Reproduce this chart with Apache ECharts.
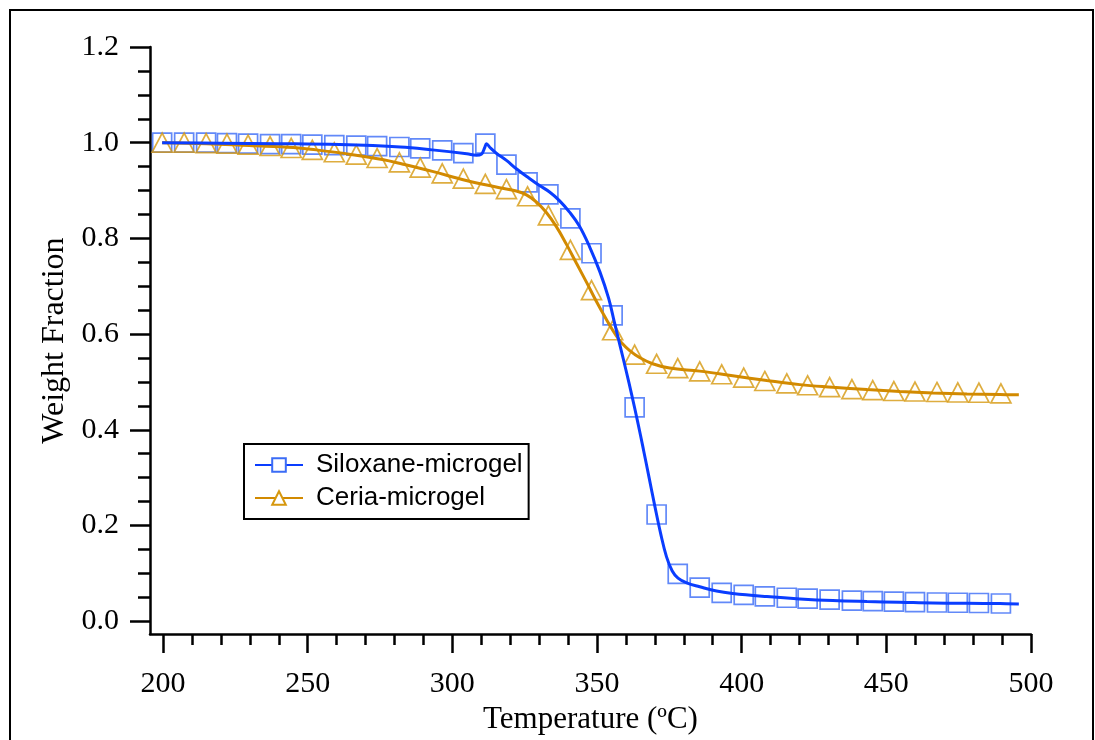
<!DOCTYPE html>
<html>
<head>
<meta charset="utf-8">
<script src="https://cdn.jsdelivr.net/npm/echarts@6/dist/echarts.min.js"></script>
<style>
  html, body { margin: 0; padding: 0; background: #fff; }
  #chart { width: 1095px; height: 740px; }
</style>
</head>
<body>
<div id="chart"></div>
<script>
// temperatures (ºC) where the markers sit
const markerTemps = [199.7, 207.3, 214.9, 222.1, 229.4, 237.0, 244.3, 251.6, 259.2, 266.8,
    274.0, 281.7, 288.9, 296.5, 303.8, 311.4, 318.7, 326.0, 333.2, 340.8,
    348.1, 355.4, 363.0, 370.6, 377.9, 385.5, 393.1, 400.7, 408.0, 415.6,
    422.8, 430.4, 438.1, 445.3, 452.6, 459.9, 467.5, 474.7, 482.0, 489.6];

const siloxaneMarkers = [1.0, 1.0, 1.0, 0.999, 0.998, 0.997, 0.997, 0.996, 0.995, 0.994,
    0.993, 0.991, 0.988, 0.984, 0.978, 0.998, 0.954, 0.917, 0.892, 0.842,
    0.769, 0.639, 0.447, 0.223, 0.099, 0.070, 0.059, 0.055, 0.052, 0.049,
    0.047, 0.045, 0.043, 0.042, 0.041, 0.040, 0.039, 0.0385, 0.038, 0.037];

const ceriaMarkers = [1.0, 1.0, 0.999, 0.998, 0.996, 0.993, 0.989, 0.985, 0.980, 0.975,
    0.968, 0.959, 0.948, 0.936, 0.925, 0.914, 0.903, 0.888, 0.848, 0.776,
    0.692, 0.608, 0.557, 0.538, 0.529, 0.522, 0.516, 0.509, 0.502, 0.497,
    0.493, 0.489, 0.485, 0.483, 0.481, 0.480, 0.479, 0.478, 0.4775, 0.476];

// continuous traces [temperature, weight fraction]
const siloxaneLine = [
    [199.7, 1.0], [220, 0.999], [240, 0.998], [261, 0.996], [282, 0.991], [293, 0.985],
    [305, 0.977], [308.3, 0.974], [310, 0.976], [311.2, 0.99], [311.8, 0.998], [313, 0.99],
    [315.2, 0.978], [318.7, 0.963], [322, 0.946], [325.6, 0.930], [330, 0.911], [333.6, 0.897],
    [337, 0.879], [340.5, 0.855], [343.9, 0.826], [347.4, 0.783], [351, 0.730], [354, 0.675],
    [356, 0.625], [358, 0.575], [360, 0.525], [362, 0.473], [364, 0.418], [366, 0.360],
    [368, 0.300], [370, 0.240], [372, 0.183], [374, 0.135], [376, 0.105], [378, 0.090],
    [381, 0.080], [385.5, 0.072], [391.3, 0.063], [396.9, 0.058], [408.7, 0.0515], [420.1, 0.0465],
    [431.5, 0.043], [443.3, 0.041], [454.7, 0.0396], [466.1, 0.038], [477.9, 0.0375], [489.3, 0.0368],
    [495.8, 0.036]
];

const ceriaLine = [
    [199.7, 1.0], [215, 0.998], [229.8, 0.994], [245, 0.99], [252.9, 0.985], [264.4, 0.976],
    [275.8, 0.965], [283, 0.955], [293.1, 0.940], [304.8, 0.921], [316.3, 0.906], [322.1, 0.899],
    [325.6, 0.891], [329.1, 0.876], [332.5, 0.854], [336, 0.824], [339.4, 0.788], [342.9, 0.748],
    [346.4, 0.708], [349.8, 0.668], [353.3, 0.630], [356.7, 0.596], [358.5, 0.582], [361.2, 0.566],
    [364.7, 0.551], [369.2, 0.538], [375.1, 0.529], [385.5, 0.5226], [396.9, 0.513], [408.7, 0.503],
    [420.1, 0.4944], [431.5, 0.489], [443.3, 0.484], [454.7, 0.48], [466.1, 0.477], [477.9, 0.475],
    [489.3, 0.4736], [495.8, 0.473]
];

const xMajorTicks = [200, 250, 300, 350, 400, 450, 500];
const xMinorTicks = [210, 220, 230, 240, 260, 270, 280, 290, 310, 320, 330, 340, 360, 370, 380, 390,
    410, 420, 430, 440, 460, 470, 480, 490];
const yMajorTicks = [0, 0.2, 0.4, 0.6, 0.8, 1.0, 1.2];
const yMinorTicks = [0.05, 0.1, 0.15, 0.25, 0.3, 0.35, 0.45, 0.5, 0.55, 0.65, 0.7, 0.75,
    0.85, 0.9, 0.95, 1.05, 1.1, 1.15];

const blueLine = '#0a3dff';
const blueMark = '#3b6cf6';
const goldLine = '#d28a00';
const goldMark = '#d6980f';

const serif = '"Liberation Serif", "Times New Roman", serif';
const sans = '"Liberation Sans", Arial, sans-serif';

const xMin = 195.5, xMax = 500;
const yMin = -0.027, yMax = 1.2;

const chart = echarts.init(document.getElementById('chart'), null, {renderer: 'canvas'});

const axisLineStyle = {color: '#000', width: 2.5};

const option = {
    animation: false,
    backgroundColor: '#fff',
    grid: {left: 150, right: 64, top: 47, bottom: 104, containLabel: false},
    graphic: [{
        type: 'rect',
        shape: {x: 10, y: 10, width: 1083, height: 780},
        style: {fill: 'none', stroke: '#000', lineWidth: 2},
        silent: true,
        z: -1
    }],
    legend: {
        left: 244,
        top: 444,
        orient: 'vertical',
        data: ['Siloxane-microgel', 'Ceria-microgel'],
        itemWidth: 48,
        itemHeight: 17,
        itemGap: 7,
        padding: [8, 6, 8, 10],
        borderColor: '#000',
        borderWidth: 2,
        backgroundColor: '#fff',
        textStyle: {fontFamily: sans, fontSize: 26, color: '#000', lineHeight: 26, padding: [0, 0, 0, 8]}
    },
    xAxis: [{
        type: 'value',
        min: xMin,
        max: xMax,
        position: 'bottom',
        name: 'Temperature (ºC)',
        nameLocation: 'middle',
        nameGap: 61,
        nameTextStyle: {fontFamily: serif, fontSize: 31, color: '#000'},
        axisLine: {show: true, onZero: false, lineStyle: axisLineStyle},
        axisTick: {show: true, inside: false, length: 19, customValues: xMajorTicks, lineStyle: axisLineStyle},
        axisLabel: {show: true, margin: 35, customValues: xMajorTicks, fontFamily: serif, fontSize: 30, color: '#000'},
        splitLine: {show: false}
    }, {
        type: 'value',
        min: xMin,
        max: xMax,
        position: 'bottom',
        offset: 0,
        axisLine: {show: false, onZero: false},
        axisTick: {show: true, inside: false, length: 11, customValues: xMinorTicks, lineStyle: {color: '#000', width: 2.5}},
        axisLabel: {show: false},
        splitLine: {show: false}
    }],
    yAxis: [{
        type: 'value',
        min: yMin,
        max: yMax,
        position: 'left',
        name: 'Weight Fraction',
        nameLocation: 'middle',
        nameGap: 67,
        nameRotate: 90,
        nameTextStyle: {fontFamily: serif, fontSize: 32, color: '#000'},
        axisLine: {show: true, onZero: false, lineStyle: axisLineStyle},
        axisTick: {show: true, inside: false, length: 20, customValues: yMajorTicks, lineStyle: axisLineStyle},
        axisLabel: {
            show: true, margin: 31, customValues: yMajorTicks,
            formatter: v => Number(v).toFixed(1),
            fontFamily: serif, fontSize: 30, color: '#000'
        },
        splitLine: {show: false}
    }, {
        type: 'value',
        min: yMin,
        max: yMax,
        position: 'left',
        offset: 0,
        axisLine: {show: false, onZero: false},
        axisTick: {show: true, inside: false, length: 12, customValues: yMinorTicks, lineStyle: {color: '#000', width: 2.5}},
        axisLabel: {show: false},
        splitLine: {show: false}
    }],
    series: [
        {
            name: 'Siloxane markers',
            type: 'scatter',
            xAxisIndex: 0, yAxisIndex: 0,
            symbol: 'rect',
            symbolSize: 19,
            itemStyle: {color: 'rgba(255,255,255,0)', borderColor: blueMark, borderWidth: 1.7},
            data: markerTemps.map((t, i) => [t, siloxaneMarkers[i]]),
            z: 2,
            silent: true
        },
        {
            name: 'Ceria markers',
            type: 'scatter',
            xAxisIndex: 0, yAxisIndex: 0,
            symbol: 'triangle',
            symbolSize: [20, 19],
            itemStyle: {color: 'rgba(255,255,255,0)', borderColor: goldMark, borderWidth: 1.7},
            data: markerTemps.map((t, i) => [t, ceriaMarkers[i]]),
            z: 2,
            silent: true
        },
        {
            name: 'Ceria-microgel',
            type: 'line',
            xAxisIndex: 0, yAxisIndex: 0,
            symbol: 'emptyTriangle',
            showSymbol: false,
            smooth: 0.4,
            itemStyle: {color: goldMark},
            lineStyle: {color: goldLine, width: 3},
            data: ceriaLine,
            z: 3
        },
        {
            name: 'Siloxane-microgel',
            type: 'line',
            xAxisIndex: 0, yAxisIndex: 0,
            symbol: 'emptyRect',
            showSymbol: false,
            smooth: 0.4,
            itemStyle: {color: blueMark},
            lineStyle: {color: blueLine, width: 3},
            data: siloxaneLine,
            z: 4
        }
    ]
};

chart.setOption(option);
</script>
</body>
</html>
